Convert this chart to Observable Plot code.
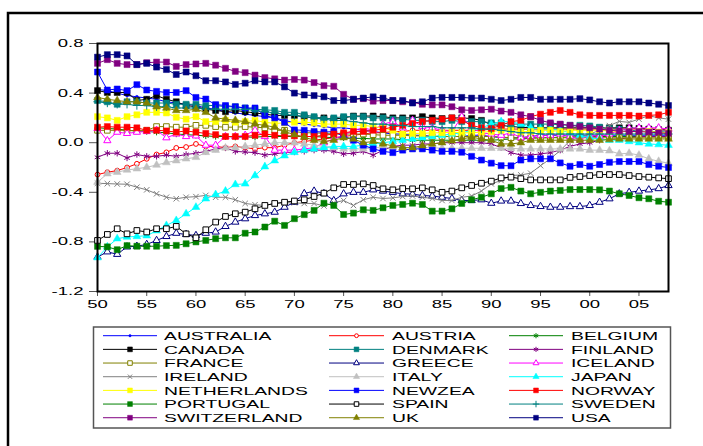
<!DOCTYPE html>
<html><head><meta charset="utf-8">
<script src="https://cdn.jsdelivr.net/npm/d3@7"></script>
<script src="https://cdn.jsdelivr.net/npm/@observablehq/plot@0.6"></script>
<style>
html,body{margin:0;padding:0;background:#fff;}
#chart{position:relative;width:703px;height:446px;overflow:hidden;}
</style></head><body><div id="chart"></div>
<script>
const years = d3.range(1950, 2009);
const countries = ["AUSTRALIA","AUSTRIA","BELGIUM","CANADA","DENMARK","FINLAND","FRANCE","GREECE","ICELAND","IRELAND","ITALY","JAPAN","NETHERLANDS","NEWZEA","NORWAY","PORTUGAL","SPAIN","SWEDEN","SWITZERLAND","UK","USA"];
const xTicks = [1950,1955,1960,1965,1970,1975,1980,1985,1990,1995,2000,2005];
const yTicks = [-1.2,-0.8,-0.4,0,0.4,0.8];

const AUSTRALIA = [.43,.42,.40,.38,.37,.36,.35,.33,.32,.31, .30,.28,.27,.25,.24,.23,.22,.21,.20,.18, .16,.15,.14,.13,.12,.12,.11,.10,.09,.08, .07,.07,.06,.06,.05,.05,.05,.05,.06,.06, .05,.04,.04,.04,.05,.06,.06,.06,.06,.06, .06,.06,.06,.06,.06,.06,.06,.06,.06];
const AUSTRIA = [-.257,-.238,-.225,-.20,-.17,-.13,-.095,-.078,-.042,-.035, -.01,-.03,-.03,-.04,-.03,-.04,-.05,-.04,-.04,-.02, .00,.01,.02,.03,.04,.05,.06,.07,.08,.08, .09,.09,.10,.10,.10,.10,.10,.10,.10,.10, .11,.11,.11,.11,.11,.11,.11,.11,.11,.11, .11,.11,.11,.11,.11,.11,.11,.11,.11];
const BELGIUM = [.12,.115,.11,.10,.095,.09,.085,.08,.07,.065, .06,.055,.05,.05,.045,.045,.045,.05,.05,.05, .05,.05,.05,.045,.04,.04,.035,.035,.03,.03, .03,.025,.02,.02,.02,.02,.02,.02,.02,.02, .02,.025,.03,.03,.035,.04,.04,.045,.045,.05, .05,.05,.05,.05,.05,.05,.05,.05,.05];
const CANADA = [.42,.405,.405,.405,.34,.35,.38,.35,.33,.30, .29,.27,.26,.25,.26,.25,.24,.23,.22,.22, .22,.21,.20,.20,.19,.20,.215,.215,.215,.21, .20,.20,.20,.21,.20,.195,.20,.20,.195,.18, .145,.14,.13,.125,.12,.12,.12,.12,.12,.12, .12,.12,.12,.12,.12,.115,.11,.105,.10];
const DENMARK = [.34,.33,.31,.33,.33,.32,.32,.32,.31,.31, .31,.30,.30,.29,.29,.28,.27,.265,.26,.245, .245,.225,.21,.19,.20,.21,.21,.21,.20,.20, .19,.19,.18,.18,.17,.17,.18,.17,.17,.17, .16,.16,.15,.15,.15,.15,.15,.145,.14,.14, .135,.125,.115,.11,.10,.095,.09,.09,.085];
const FINLAND = [-.118,-.085,-.085,-.123,-.095,-.11,-.11,-.10,-.11,-.095, -.085,-.07,-.05,-.042,-.07,-.075,-.08,-.10,-.09,-.08, -.075,-.07,-.06,-.06,-.07,-.09,-.085,-.07,-.10,-.06, -.03,-.02,-.02,-.01,-.01,.00,.00,.00,.00,.00, -.01,-.04,-.08,-.10,-.10,-.09,-.08,-.06,-.03,-.01, .00,.02,.03,.03,.04,.05,.05,.05,.05];
const FRANCE = [.10,.10,.10,.10,.095,.10,.13,.13,.125,.125, .14,.14,.13,.125,.125,.13,.125,.12,.10,.10, .09,.08,.08,.075,.07,.07,.07,.07,.065,.06, .06,.06,.055,.055,.05,.05,.05,.05,.05,.05, .05,.045,.04,.04,.04,.04,.04,.04,.04,.04, .04,.04,.04,.04,.04,.04,.04,.04,.04];
const GREECE = [-.922,-.88,-.90,-.84,-.835,-.82,-.788,-.756,-.73,-.74, -.748,-.73,-.72,-.675,-.64,-.613,-.587,-.573,-.56,-.52, -.48,-.41,-.39,-.41,-.466,-.412,-.40,-.40,-.38,-.39, -.40,-.412,-.415,-.426,-.43,-.44,-.45,-.466,-.466,-.46, -.488,-.47,-.47,-.49,-.506,-.514,-.52,-.52,-.515,-.515, -.506,-.48,-.452,-.412,-.40,-.39,-.38,-.37,-.345];
const ICELAND = [.115,.017,.085,.075,.085,.09,.10,.04,.07,.05, .055,-.02,-.02,.05,.05,.06,.10,.05,-.06,-.06, -.06,-.05,-.04,.00,.03,.06,.10,.12,.10,.15, .17,.12,.18,.13,.12,.10,.09,.21,.12,.08, .07,.06,.08,.04,.05,.06,.06,.07,.05,.03, .06,.05,.07,.10,.115,.12,.12,.12,.11];
const IRELAND = [-.327,-.33,-.333,-.335,-.359,-.38,-.412,-.44,-.452,-.44, -.435,-.425,-.44,-.44,-.46,-.49,-.50,-.506,-.49,-.485, -.485,-.49,-.49,-.51,-.485,-.466,-.506,-.46,-.44,-.45, -.445,-.434,-.43,-.44,-.45,-.466,-.466,-.44,-.43,-.39, -.332,-.305,-.265,-.26,-.246,-.185,-.13,-.063,.017,.04, .07,.10,.138,.172,.164,.19,.218,.20,.19];
const ITALY = [-.318,-.25,-.238,-.22,-.21,-.198,-.18,-.16,-.145,-.13, -.118,-.078,-.06,-.042,-.04,-.03,-.02,-.01,.00,.00, .00,-.01,-.02,-.03,-.04,-.05,-.05,-.05,-.04,-.04, -.04,-.04,-.04,-.04,-.04,-.045,-.045,-.045,-.045,-.045, -.045,-.045,-.045,-.05,-.05,-.05,-.05,-.05,-.05,-.05, -.06,-.06,-.065,-.09,-.085,-.10,-.13,-.15,-.165];
const JAPAN = [-.927,-.84,-.774,-.76,-.756,-.75,-.71,-.667,-.627,-.573, -.52,-.452,-.418,-.39,-.337,-.332,-.265,-.193,-.145,-.105, -.078,-.06,-.05,-.04,-.03,-.03,-.03,-.02,-.01,.00, .01,.02,.03,.04,.05,.06,.07,.08,.10,.12, .15,.17,.17,.15,.12,.11,.11,.10,.08,.06, .04,.03,.02,.02,.01,.00,-.01,-.015,-.02];
const NETHERLANDS = [.21,.20,.18,.21,.225,.245,.245,.24,.205,.19, .21,.17,.17,.18,.165,.17,.18,.165,.155,.16, .165,.165,.16,.15,.15,.15,.14,.14,.13,.12, .10,.07,.075,.075,.08,.08,.085,.08,.08,.085, .09,.10,.10,.09,.09,.10,.10,.09,.10,.10, .10,.10,.095,.09,.09,.09,.09,.085,.08];
const NEWZEA = [.57,.425,.433,.42,.468,.425,.414,.405,.405,.42, .365,.352,.307,.30,.29,.28,.28,.218,.20,.164, .103,.10,.09,.085,.09,.05,.02,-.02,-.05,-.07, -.08,-.06,-.05,-.05,-.06,-.07,-.07,-.077,-.11,-.14, -.165,-.185,-.186,-.14,-.13,-.13,-.13,-.163,-.19,-.176, -.19,-.176,-.158,-.152,-.152,-.152,-.176,-.19,-.20];
const NORWAY = [.125,.13,.125,.125,.12,.10,.10,.095,.085,.095, .085,.075,.065,.05,.05,.05,.06,.07,.06,.055, .055,.05,.05,.06,.07,.08,.09,.09,.10,.11, .125,.14,.155,.17,.18,.19,.20,.18,.14,.12, .115,.14,.17,.18,.21,.23,.245,.26,.245,.225, .22,.22,.22,.22,.22,.215,.22,.225,.245];
const PORTUGAL = [-.836,-.84,-.863,-.83,-.835,-.835,-.835,-.83,-.828,-.815, -.80,-.788,-.774,-.767,-.767,-.73,-.72,-.68,-.633,-.667, -.613,-.58,-.546,-.488,-.506,-.579,-.568,-.541,-.546,-.525, -.506,-.498,-.488,-.498,-.552,-.552,-.533,-.49,-.46,-.44, -.412,-.37,-.36,-.39,-.412,-.40,-.39,-.385,-.378,-.378, -.378,-.38,-.39,-.412,-.426,-.444,-.452,-.472,-.48];
const SPAIN = [-.788,-.74,-.694,-.735,-.708,-.72,-.694,-.694,-.675,-.735, -.767,-.702,-.64,-.595,-.573,-.56,-.533,-.506,-.49,-.48, -.47,-.46,-.434,-.407,-.364,-.337,-.337,-.332,-.345,-.372, -.38,-.37,-.372,-.364,-.38,-.40,-.39,-.364,-.345,-.327, -.31,-.284,-.278,-.29,-.30,-.30,-.30,-.30,-.28,-.273, -.265,-.257,-.257,-.257,-.265,-.273,-.278,-.284,-.29];
const SWEDEN = [.33,.32,.31,.31,.30,.30,.29,.29,.28,.28, .28,.27,.27,.27,.27,.27,.26,.25,.24,.23, .22,.21,.20,.19,.18,.18,.17,.16,.15,.15, .14,.14,.13,.13,.13,.12,.12,.12,.12,.11, .11,.10,.09,.08,.08,.07,.07,.07,.07,.07, .07,.07,.07,.07,.07,.07,.07,.07,.07];
const SWITZERLAND = [.64,.67,.64,.63,.63,.645,.65,.65,.615,.63, .635,.64,.625,.60,.575,.565,.545,.525,.515,.505, .51,.505,.485,.46,.455,.39,.35,.355,.335,.34, .34,.33,.325,.31,.305,.305,.29,.265,.26,.265, .27,.255,.245,.225,.21,.18,.16,.15,.14,.13, .12,.11,.10,.095,.09,.09,.085,.08,.075];
const UK = [.365,.35,.34,.33,.33,.32,.29,.28,.26,.26, .27,.245,.20,.19,.18,.17,.15,.14,.125,.09, .065,.045,.02,.01,.02,.04,.03,.00,.01,-.01, -.025,-.04,-.04,-.025,-.01,.00,.015,.03,.045,.03, .02,-.01,-.01,.00,.02,.02,.02,.02,.02,.02, .02,.02,.025,.03,.03,.03,.03,.03,.03];
const USA = [.69,.71,.71,.70,.63,.64,.61,.59,.55,.57, .54,.50,.50,.49,.47,.48,.50,.49,.49,.45, .40,.385,.38,.37,.34,.34,.35,.36,.37,.36, .34,.34,.32,.33,.36,.365,.365,.365,.36,.36, .35,.34,.35,.365,.365,.35,.35,.35,.35,.355, .345,.33,.32,.33,.33,.33,.32,.31,.30];

const values = {AUSTRALIA,AUSTRIA,BELGIUM,CANADA,DENMARK,FINLAND,FRANCE,GREECE,ICELAND,IRELAND,ITALY,JAPAN,NETHERLANDS,NEWZEA,NORWAY,PORTUGAL,SPAIN,SWEDEN,SWITZERLAND,UK,USA};

// styles (EViews-like)
const styles = {
  AUSTRALIA:{color:"#0000ff",symbol:"circle",fill:true,r:1.5},
  AUSTRIA:{color:"#ff0000",symbol:"circle",fill:false,r:2.4},
  BELGIUM:{color:"#008000",symbol:"asterisk",line:true,r:3.0},
  CANADA:{color:"#000000",symbol:"square",fill:true,r:3.4},
  DENMARK:{color:"#008080",symbol:"square",fill:true,r:3.4},
  FINLAND:{color:"#800080",symbol:"asterisk",line:true,r:3.0},
  FRANCE:{color:"#808000",symbol:"square",fill:false,r:3.2},
  GREECE:{color:"#000080",symbol:"triangle",fill:false,r:2.7},
  ICELAND:{color:"#ff00ff",symbol:"triangle",fill:false,r:2.7},
  IRELAND:{color:"#808080",symbol:"times",line:true,r:2.6},
  ITALY:{color:"#c0c0c0",symbol:"triangle",fill:true,r:2.9},
  JAPAN:{color:"#00ffff",symbol:"triangle",fill:true,r:2.9},
  NETHERLANDS:{color:"#ffff00",symbol:"square",fill:true,r:3.4},
  NEWZEA:{color:"#0000ff",symbol:"square",fill:true,r:3.4},
  NORWAY:{color:"#ff0000",symbol:"square",fill:true,r:3.4},
  PORTUGAL:{color:"#008000",symbol:"square",fill:true,r:3.4},
  SPAIN:{color:"#000000",symbol:"square",fill:false,r:3.2},
  SWEDEN:{color:"#008080",symbol:"plus",line:true,r:2.8},
  SWITZERLAND:{color:"#800080",symbol:"square",fill:true,r:3.4},
  UK:{color:"#808000",symbol:"triangle",fill:true,r:2.9},
  USA:{color:"#000080",symbol:"square",fill:true,r:3.4}
};

const marks = [];
for (const c of countries) {
  const s = styles[c];
  const rows = years.map((yr, i) => ({year: yr, value: values[c][i]}));
  marks.push(Plot.line(rows, {x:"year", y:"value", stroke:s.color, strokeWidth:1}));
  const dotOpts = {x:"year", y:"value", symbol:s.symbol, r:s.r};
  if (s.line) Object.assign(dotOpts, {fill:"none", stroke:s.color, strokeWidth:1});
  else if (s.fill) Object.assign(dotOpts, {fill:s.color, stroke:s.color, strokeWidth:0.5});
  else Object.assign(dotOpts, {fill:"white", stroke:s.color, strokeWidth:1});
  marks.push(Plot.dot(rows, dotOpts));
}
marks.push(Plot.frame({stroke:"black", strokeWidth:2}));

const chart = Plot.plot({
  width:703, height:446,
  marginLeft:97, marginRight:35, marginTop:43, marginBottom:155,
  style:{fontFamily:"'Liberation Sans', Arial, sans-serif", fontSize:"11px", color:"black", background:"white", overflow:"visible"},
  x:{domain:[1950,2008], ticks:xTicks, tickFormat:d=>String(d%100).padStart(2,"0"), tickSize:5, tickPadding:4, label:null},
  y:{domain:[-1.2,0.8], ticks:yTicks, tickFormat:d=>d.toFixed(1), tickSize:8, tickPadding:6, label:null},
  marks
});
document.getElementById("chart").appendChild(chart);

const svg = d3.select(chart);
svg.selectAll('g[aria-label$="-axis tick"]').attr("stroke","#555");

// outer border
svg.append("rect").attr("x",8).attr("y",13).attr("width",720).attr("height",460)
  .attr("fill","none").attr("stroke","black").attr("stroke-width",2.5);

// legend
const symMap = {circle:d3.symbolCircle, square:d3.symbolSquare, triangle:d3.symbolTriangle, asterisk:d3.symbolAsterisk, plus:d3.symbolPlus, times:d3.symbolTimes};
const lg = svg.append("g").attr("font-family","'Liberation Sans', Arial, sans-serif").attr("font-size","11.5px").attr("text-anchor","start");
lg.append("rect").attr("x",93.5).attr("y",327).attr("width",577).attr("height",101)
  .attr("fill","white").attr("stroke","#555").attr("stroke-width",1.5);
const colLine = [[103,157],[329,384],[509,563]];
const colText = [164,392,571];
countries.forEach((c,i) => {
  const s = styles[c];
  const row = Math.floor(i/3), col = i%3;
  const y = 335.7 + row*13.67;
  const [x1,x2] = colLine[col];
  lg.append("line").attr("x1",x1).attr("x2",x2).attr("y1",y).attr("y2",y).attr("stroke",s.color).attr("stroke-width",1);
  const size = Math.PI*Math.pow(s.r*0.8,2);
  const p = lg.append("path").attr("d", d3.symbol(symMap[s.symbol], size)()).attr("transform",`translate(${(x1+x2)/2},${y})`);
  if (s.line) p.attr("fill","none").attr("stroke",s.color).attr("stroke-width",1);
  else if (s.fill) p.attr("fill",s.color).attr("stroke",s.color).attr("stroke-width",0.5);
  else p.attr("fill","white").attr("stroke",s.color).attr("stroke-width",1);
  lg.append("text").attr("x",colText[col]).attr("y",y).attr("dy","0.36em").attr("text-anchor","start").text(c);
});

// horizontal stretch of text (reference glyphs are wide)
svg.selectAll("text").each(function(){
  const L = this.getComputedTextLength();
  if (L > 0) { this.setAttribute("textLength", (L*1.68).toFixed(1)); this.setAttribute("lengthAdjust","spacingAndGlyphs"); }
});
</script></body></html>
